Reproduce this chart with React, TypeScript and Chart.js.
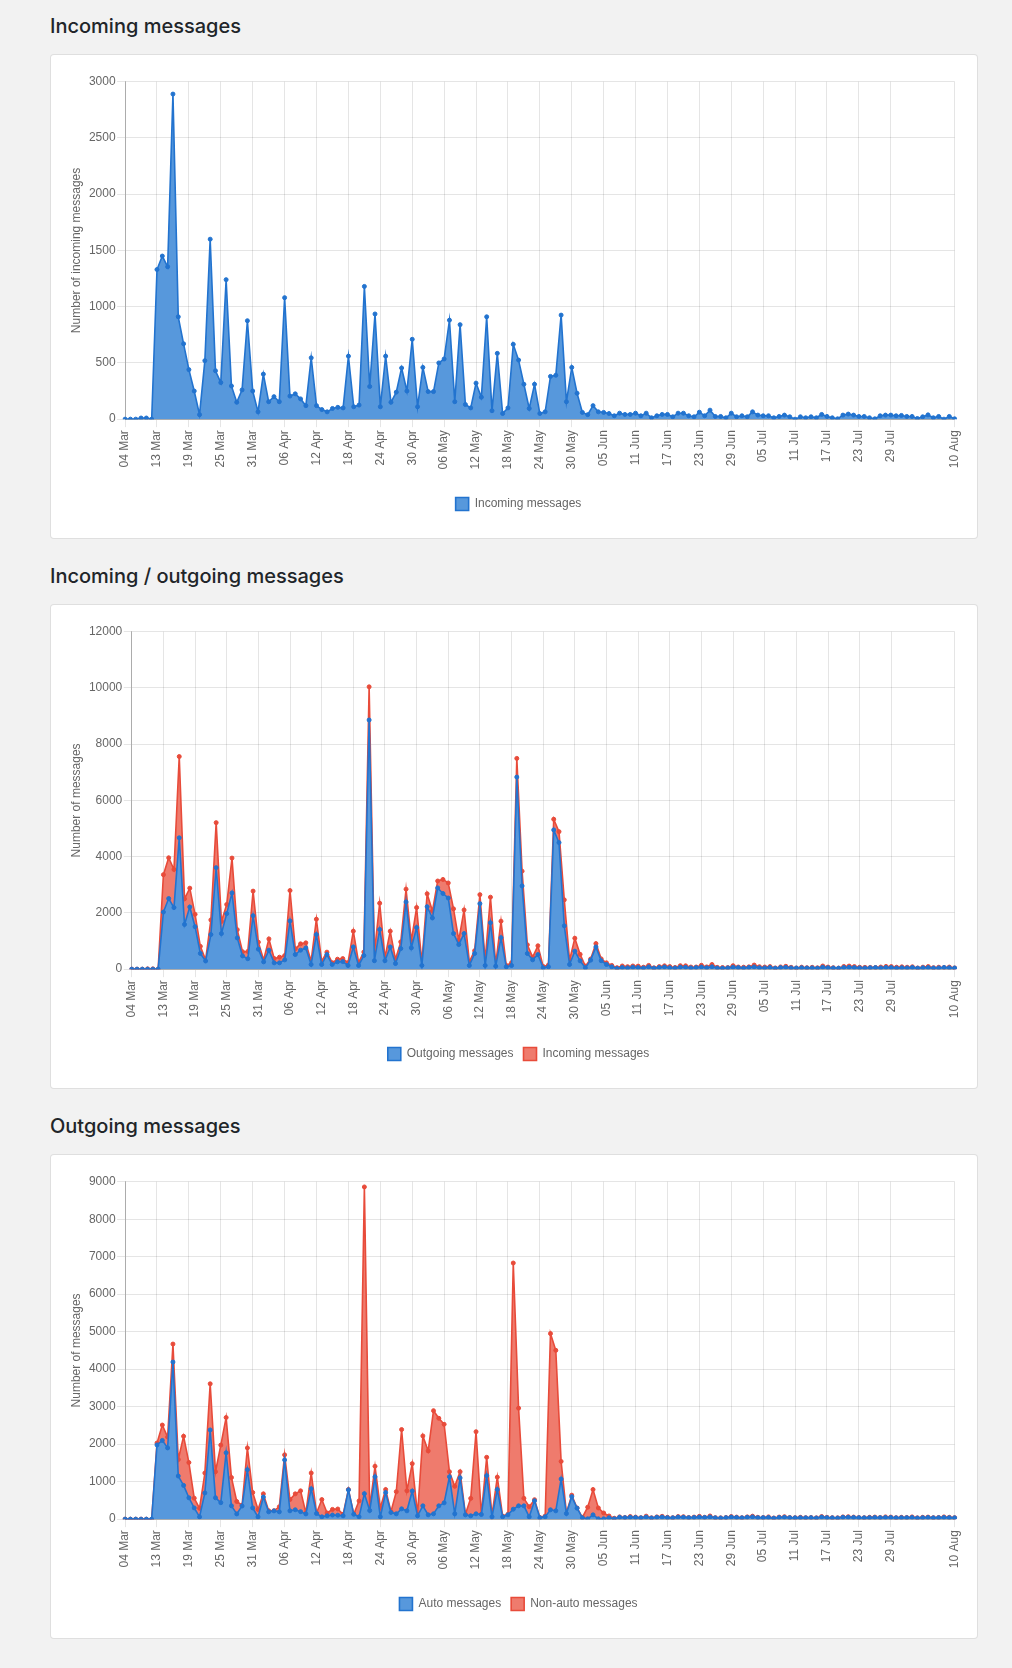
import React, { useEffect, useRef } from 'react';
import { Chart, registerables } from 'chart.js';

Chart.register(...registerables);

// Category labels: one per day with data (first day, then 08 Mar .. 10 Aug)
const MONTHS = ['Mar', 'Apr', 'May', 'Jun', 'Jul', 'Aug'];
const MONTH_LAST_DAY = [31, 30, 31, 30, 31, 10];

const buildLabels = (): string[] => {
  const out = ['04 Mar'];
  MONTHS.forEach((m, mi) => {
    const first = mi === 0 ? 8 : 1;
    for (let d = first; d <= MONTH_LAST_DAY[mi]; d++) {
      out.push(`${String(d).padStart(2, '0')} ${m}`);
    }
  });
  return out;
};

const dayLabels = buildLabels();

const incoming = [
  0, 0, 0, 10, 10, 0,
  1330, 1450, 1355, 2890, 910, 670, 440, 250, 40, 520, 1600, 430, 325, 1240, 295, 150, 260, 875,
  250, 65, 400, 155, 200, 155, 1080, 205, 225, 180, 120, 545, 120, 85, 65, 95, 105,
  100, 560, 110, 125, 1180, 290, 935, 110, 560, 150, 240, 455, 250, 710, 110, 460, 245, 245, 500,
  535, 880, 155, 840, 130, 100, 320, 195, 910, 75, 585, 50, 100, 665, 525, 310, 95, 310, 50, 65,
  380, 390, 925, 155, 460, 230, 60, 40, 120, 65, 60, 50, 30,
  53, 42, 42, 53, 30, 53, 12, 30, 42, 42, 21, 53, 53, 30, 21, 62, 30, 80, 24, 24, 12, 53, 21, 30,
  21, 65, 36, 30, 30, 12, 24, 36, 21, 0, 21, 12, 21, 12, 42, 24, 12, 3, 36, 45, 36, 24, 24, 12, 3,
  30, 36, 36, 30,
  33, 24, 24, 6, 21, 38, 12, 24, 0, 24, 3,
];

const outgoing = [
  0, 0, 0, 0, 0, 0,
  2030, 2510, 2190, 4670, 1590, 2210, 1510, 560, 290, 1230, 3610, 1265, 1975, 2710, 1110, 470, 370,
  1900, 710, 260, 675, 225, 225, 330, 1715, 520, 675, 755, 165, 1230, 165, 520, 165, 260,
  270, 130, 790, 130, 485, 8860, 300, 1410, 300, 790, 200, 730, 2390, 757, 1480, 130, 2220, 1820,
  2890, 2690, 2530, 1265, 875, 1265, 130, 556, 2330, 130, 1650, 106, 1120, 83, 130, 6830, 2960, 556,
  331, 520, 47, 83, 4950, 4500, 1540, 166, 640, 296, 47, 320, 790, 300, 165, 83, 24,
  60, 45, 70, 55, 40, 80, 35, 60, 75, 50, 40, 70, 65, 45, 55, 75, 50, 85, 40, 35,
  45, 70, 55, 40, 60, 80, 50, 45, 60, 30, 55, 65, 45, 40, 50, 40, 45, 35, 70, 50,
  40, 35, 60, 65, 55, 45, 40, 50, 55, 45, 60, 55, 40, 50, 45, 60, 35, 50, 55, 40,
  45, 60, 50, 40,
];

const autoMessages = [
  0, 0, 0, 0, 0, 0,
  1980, 2100, 1900, 4190, 1150, 900, 570, 300, 60, 700, 2380, 570, 440, 1770, 355, 140, 350, 1320,
  300, 60, 590, 195, 220, 195, 1580, 222, 250, 200, 140, 810, 150, 62, 90, 110,
  106, 89, 780, 130, 62, 680, 230, 1130, 62, 710, 178, 142, 275, 222, 750, 89, 355, 115, 142, 355,
  435, 1130, 142, 1100, 115, 89, 142, 124, 1160, 62, 790, 62, 115, 266, 355, 355, 62, 488, 35, 62,
  249, 222, 1070, 150, 600, 293, 35, 9, 115, 9, 9, 35, 9,
  50, 40, 50, 45, 35, 55, 30, 50, 55, 40, 35, 55, 50, 40, 45, 55, 45, 60, 35, 30,
  40, 55, 45, 35, 50, 60, 40, 40, 45, 25, 45, 50, 40, 35, 40, 35, 40, 30, 55, 40,
  35, 30, 50, 50, 45, 40, 35, 40, 45, 40, 45, 45, 35, 40, 40, 45, 30, 40, 45, 35,
  40, 45, 40, 35,
];

const nonAutoMessages = [
  0, 0, 0, 0, 0, 0,
  50, 410, 290, 480, 440, 1310, 940, 260, 230, 530, 1230, 695, 1535, 940, 755, 330, 20, 580,
  410, 200, 85, 30, 5, 135, 135, 300, 425, 555, 25, 420, 15, 460, 75, 150,
  165, 40, 10, 0, 425, 8180, 70, 280, 240, 80, 20, 590, 2115, 535, 730, 40, 1865, 1705, 2750, 2335,
  2095, 135, 735, 165, 15, 465, 2190, 5, 490, 45, 330, 20, 15, 6565, 2605, 200, 270, 30, 12, 20,
  4700, 4280, 470, 15, 40, 5, 12, 310, 675, 290, 155, 50, 15,
  10, 5, 20, 10, 5, 25, 5, 10, 20, 10, 5, 15, 15, 5, 10, 20, 5, 25, 5, 5,
  5, 15, 10, 5, 10, 20, 10, 5, 15, 5, 10, 15, 5, 5, 10, 5, 5, 5, 15, 10,
  5, 5, 10, 15, 10, 5, 5, 10, 10, 5, 15, 10, 5, 10, 5, 15, 5, 10, 10, 5,
  5, 15, 10, 5,
];

const BLUE_LINE = '#2273cf';
const BLUE_FILL = '#5798dc';
const RED_LINE = '#e84b3a';
const RED_FILL = '#ef7b6d';

const TICK_COLOR = '#666';
const GRID_COLOR = 'rgba(0,0,0,0.1)';
const AXIS_COLOR = 'rgba(0,0,0,0.25)';

Chart.defaults.font.family = "'Helvetica Neue', Helvetica, Arial, sans-serif";
Chart.defaults.font.size = 12;
Chart.defaults.color = TICK_COLOR;

// every 6th day gets a label, plus the last one (as the old auto-skip did)
const showTick = (i: number) =>
  (i % 6 === 0 && i !== 150) || i === dayLabels.length - 1;

const series = (label: string, data: number[], line: string, fill: string, fillMode: any) => ({
  label,
  data,
  borderColor: line,
  backgroundColor: fill,
  borderWidth: 1.6,
  pointRadius: 2,
  pointBorderWidth: 1,
  pointBackgroundColor: line,
  pointBorderColor: line,
  fill: fillMode,
  tension: 0,
});

interface ChartCardProps {
  title: string;
  yTitle: string;
  yMax: number;
  yStep: number;
  datasets: any[];
  first?: boolean;
}

const ChartCard: React.FC<ChartCardProps> = ({ title, yTitle, yMax, yStep, datasets, first }) => {
  const canvasRef = useRef<HTMLCanvasElement>(null);

  useEffect(() => {
    if (!canvasRef.current) return;
    const chart = new Chart(canvasRef.current, {
      type: 'line',
      data: { labels: dayLabels, datasets },
      options: {
        animation: false,
        responsive: true,
        maintainAspectRatio: false,
        plugins: {
          legend: {
            position: 'bottom',
            labels: { boxWidth: 13, boxHeight: 13, padding: 10, color: TICK_COLOR },
          },
          tooltip: { enabled: false },
        },
        scales: {
          x: {
            stacked: true,
            ticks: {
              autoSkip: false,
              minRotation: 90,
              maxRotation: 90,
              color: TICK_COLOR,
              callback: (_v: any, i: number) => (showTick(i) ? dayLabels[i] : ''),
            },
            grid: {
              color: (ctx: any) => (showTick(ctx.index) ? GRID_COLOR : 'rgba(0,0,0,0)'),
              tickColor: (ctx: any) => (showTick(ctx.index) ? GRID_COLOR : 'rgba(0,0,0,0)'),
            },
            border: { color: AXIS_COLOR },
            afterFit: (scale: any) => {
              scale.height += 15;
            },
          },
          y: {
            stacked: true,
            min: 0,
            max: yMax,
            ticks: {
              stepSize: yStep,
              padding: 1.5,
              color: TICK_COLOR,
              callback: (v: any) => String(v),
            },
            title: { display: true, text: yTitle, color: TICK_COLOR },
            grid: { color: GRID_COLOR },
            border: { color: AXIS_COLOR },
          },
        },
      },
    });
    return () => chart.destroy();
  }, [datasets, yMax, yStep, yTitle]);

  return (
    <div>
      <div
        style={{
          marginTop: first ? 0 : 11,
          paddingTop: 14,
          height: 40,
          lineHeight: '24px',
          fontFamily: 'Inter, "Noto Sans", sans-serif',
          fontSize: 20,
          fontWeight: 500,
          color: '#212529',
        }}
      >
        {title}
      </div>
      <div
        style={{
          boxSizing: 'border-box',
          width: 928,
          height: 485,
          background: '#fff',
          border: '1px solid rgba(0,0,0,0.125)',
          borderRadius: 4,
          padding: '17.5px 5px 18px 14px',
        }}
      >
        <div style={{ position: 'relative', height: 447.5 }}>
          <canvas ref={canvasRef} />
        </div>
      </div>
    </div>
  );
};

const incomingSets = [series('Incoming messages', incoming, BLUE_LINE, BLUE_FILL, 'origin')];
const inOutSets = [
  series('Outgoing messages', outgoing, BLUE_LINE, BLUE_FILL, 'origin'),
  series('Incoming messages', incoming, RED_LINE, RED_FILL, '-1'),
];
const outgoingSets = [
  series('Auto messages', autoMessages, BLUE_LINE, BLUE_FILL, 'origin'),
  series('Non-auto messages', nonAutoMessages, RED_LINE, RED_FILL, '-1'),
];

export default function App() {
  useEffect(() => {
    document.body.style.margin = '0';
    document.body.style.background = '#f2f2f2';
  }, []);

  return (
    <div style={{ background: '#f2f2f2', minHeight: 1668, paddingLeft: 50 }}>
      <ChartCard
        first
        title="Incoming messages"
        yTitle="Number of incoming messages"
        yMax={3000}
        yStep={500}
        datasets={incomingSets}
      />
      <ChartCard
        title="Incoming / outgoing messages"
        yTitle="Number of messages"
        yMax={12000}
        yStep={2000}
        datasets={inOutSets}
      />
      <ChartCard
        title="Outgoing messages"
        yTitle="Number of messages"
        yMax={9000}
        yStep={1000}
        datasets={outgoingSets}
      />
    </div>
  );
}
